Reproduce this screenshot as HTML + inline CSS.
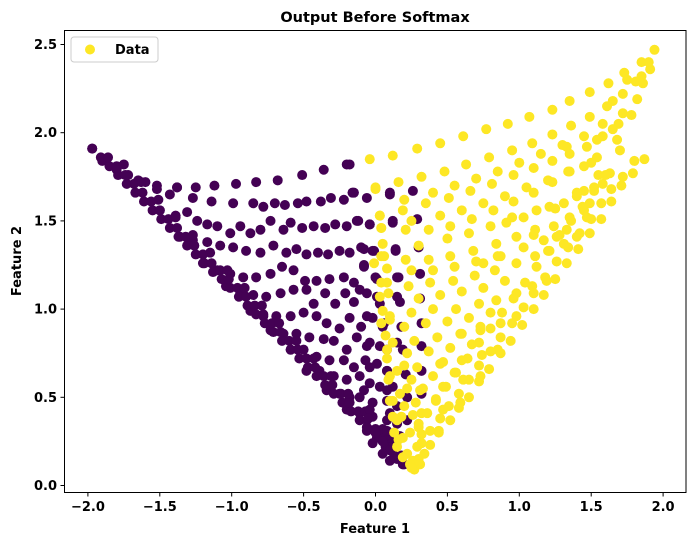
<!DOCTYPE html>
<html><head><meta charset="utf-8"><style>
body{margin:0;background:#fff;}
svg text{font-family:"DejaVu Sans","Liberation Sans",sans-serif;font-weight:bold;fill:#000;}
</style></head><body>
<svg id="chart" width="693" height="545" viewBox="0 0 693 545" xmlns="http://www.w3.org/2000/svg">
<rect x="0" y="0" width="693" height="545" fill="#fff"/>
<text x="375" y="22" font-size="14.5" text-anchor="middle">Output Before Softmax</text>
<g id="points"></g>
<g id="axes"></g>
<rect x="64.5" y="30.5" width="621.5" height="462" fill="none" stroke="#000" stroke-width="1"/>
<text x="375" y="533" font-size="13" text-anchor="middle">Feature 1</text>
<text x="21" y="261" font-size="13" text-anchor="middle" transform="rotate(-90 21 261)">Feature 2</text>
<g>
<rect x="71" y="37" width="87" height="25" rx="3" fill="#fff" fill-opacity="0.8" stroke="#ccc"/>
<circle cx="90" cy="49.5" r="5" fill="#fde725"/>
<text x="115" y="54" font-size="13">Data</text>
</g>
</svg>
<script>
const xTicks=[-2.0,-1.5,-1.0,-0.5,0.0,0.5,1.0,1.5,2.0];
const yTicks=[0.0,0.5,1.0,1.5,2.0,2.5];
const purpleX=[-1.97,-1.90,-1.80,-1.72,-1.65,-1.52,-1.38,-1.25,-1.12,-0.97,-0.83,-0.68,-0.51,-0.36,-0.20,
-1.60,-1.52,-1.43,-1.38,-1.27,-1.14,-0.99,-0.85,-0.78,-0.70,-0.63,-0.54,-0.48,-0.38,-0.31,-0.22,-0.16,-0.06,0.10,
-1.50,-1.39,-1.31,-1.24,-1.17,-1.10,-1.01,-0.94,-0.87,-0.80,-0.73,-0.64,-0.59,-0.51,-0.43,-0.35,-0.28,-0.20,-0.12,-0.04,0.12,
-1.36,-1.27,-1.17,-1.08,-0.99,-0.90,-0.80,-0.71,-0.62,-0.55,-0.48,-0.40,-0.33,-0.25,-0.18,-0.10,-0.02,0.14,
-1.20,-1.10,-1.01,-0.92,-0.83,-0.73,-0.65,-0.57,-0.49,-0.41,-0.32,-0.22,-0.15,-0.08,0.00,0.15,
-1.04,-0.94,-0.85,-0.76,-0.66,-0.57,-0.48,-0.43,-0.35,-0.28,-0.21,-0.15,-0.06,0.03,0.15,
-0.87,-0.78,-0.69,-0.59,-0.50,-0.41,-0.34,-0.25,-0.18,-0.10,-0.02,0.05,
-0.73,-0.64,-0.55,-0.46,-0.36,-0.29,-0.20,-0.13,-0.06,0.03,0.15,
-0.59,-0.50,-0.41,-0.32,-0.22,-0.15,-0.07,0.01,0.08,
-0.48,-0.39,-0.29,-0.20,-0.11,-0.04,0.03,0.12,
-0.34,-0.25,-0.18,-0.11,-0.02,0.08,0.15,
-0.20,-0.11,-0.02,0.08,0.15,
-0.06,0.03,0.10,
-1.97,-1.91,-1.85,-1.79,-1.73,-1.67,-1.61,-1.55,-1.49,-1.43,-1.37,-1.31,-1.25,-1.19,-1.13,-1.07,-1.01,-0.95,-0.89,-0.83,-0.77,-0.71,-0.65,-0.59,-0.53,-0.47,-0.41,-0.35,-0.29,-0.23,-0.17,-0.11,-0.05,0.01,0.07,0.13,0.19,
-1.86,-1.80,-1.74,-1.68,-1.62,-1.56,-1.50,-1.44,-1.38,-1.32,-1.26,-1.20,-1.14,-1.08,-1.02,-0.96,-0.90,-0.84,-0.78,-0.72,-0.66,-0.60,-0.54,-0.48,-0.42,-0.36,-0.30,-0.24,-0.18,-0.12,-0.06,0.00,0.06,0.12,0.18,
-1.75,-1.63,-1.51,-1.39,-1.27,-1.15,-1.03,-0.91,-0.79,-0.67,-0.55,-0.43,-0.31,-0.19,-0.07,0.05,
-0.18,-0.15,0.10,0.26,-0.13,-0.04,0.12,0.29,-0.08,-0.01,0.14,0.30,-0.08,0.01,0.16,0.31,-0.11,0.01,0.17,0.31,-0.06,0.06,0.18,0.32,-0.04,0.08,0.19,0.32,-0.04,0.08,0.21,0.32,-0.08,0.08,0.22,0.32,-0.04,0.10,0.22,-0.06,0.08,0.17,0.12,0.17,
0.05,0.10,0.00,-0.05,0.15,0.20,0.10,0.05,-0.02,0.14];
const purpleY=[1.91,1.84,1.79,1.76,1.73,1.70,1.69,1.69,1.70,1.71,1.72,1.73,1.76,1.79,1.82,
1.72,1.68,1.65,1.69,1.63,1.61,1.60,1.60,1.58,1.60,1.59,1.60,1.61,1.61,1.63,1.62,1.66,1.63,1.65,
1.56,1.53,1.55,1.50,1.48,1.47,1.43,1.47,1.43,1.45,1.50,1.45,1.49,1.46,1.47,1.46,1.48,1.47,1.50,1.48,1.50,
1.41,1.39,1.38,1.36,1.35,1.33,1.32,1.36,1.32,1.34,1.31,1.32,1.31,1.33,1.32,1.35,1.33,1.34,
1.26,1.22,1.20,1.18,1.18,1.20,1.24,1.22,1.16,1.16,1.17,1.18,1.15,1.24,1.18,1.18,
1.13,1.09,1.08,1.07,1.09,1.11,1.11,1.03,1.09,1.03,1.09,1.04,1.09,1.03,1.07,
0.99,0.96,0.96,0.96,0.98,0.96,0.92,0.89,0.95,0.90,0.95,0.90,
0.88,0.86,0.86,0.84,0.83,0.82,0.77,0.84,0.79,0.79,0.81,
0.77,0.77,0.73,0.71,0.71,0.67,0.71,0.69,0.65,
0.65,0.65,0.62,0.60,0.62,0.58,0.56,0.56,
0.54,0.52,0.50,0.50,0.47,0.48,0.45,
0.43,0.41,0.39,0.37,0.35,
0.31,0.28,0.26,
1.91,1.86,1.81,1.76,1.71,1.66,1.61,1.56,1.51,1.46,1.41,1.36,1.31,1.26,1.21,1.17,1.12,1.07,1.02,0.97,0.92,0.87,0.82,0.77,0.72,0.67,0.62,0.57,0.52,0.47,0.42,0.37,0.32,0.27,0.22,0.17,0.12,
1.86,1.81,1.76,1.71,1.66,1.61,1.56,1.51,1.46,1.41,1.36,1.31,1.26,1.22,1.17,1.12,1.07,1.02,0.97,0.92,0.87,0.82,0.77,0.72,0.67,0.62,0.57,0.52,0.47,0.42,0.37,0.32,0.27,0.22,0.17,
1.82,1.72,1.62,1.52,1.42,1.32,1.22,1.12,1.02,0.92,0.82,0.72,0.62,0.52,0.42,0.32,
1.82,1.66,1.66,1.67,1.50,1.48,1.49,1.51,1.34,1.33,1.33,1.35,1.25,1.17,1.18,1.20,1.11,1.07,1.04,1.06,0.96,0.92,0.90,0.92,0.81,0.77,0.77,0.79,0.67,0.65,0.63,0.65,0.54,0.54,0.50,0.52,0.43,0.41,0.37,0.33,0.31,0.28,0.22,0.16,
0.25,0.20,0.30,0.38,0.15,0.12,0.14,0.18,0.24,0.24];
const yellowX=[-0.04,0.12,0.29,0.45,0.61,0.77,0.92,1.07,1.23,1.35,1.49,1.62,1.73,1.85,1.94,
0.00,0.16,0.32,0.48,0.63,0.79,0.95,1.09,1.23,1.36,1.49,1.61,1.72,1.81,1.91,
0.03,0.19,0.35,0.51,0.66,0.81,0.96,1.10,1.23,1.35,1.47,1.58,1.69,
0.04,0.21,0.37,0.52,0.67,0.82,0.96,1.10,1.23,1.34,1.45,1.54,1.65,1.72,1.82,1.86,
1.87,1.79,1.71,1.64,1.57,1.49,1.41,1.33,1.25,1.17,1.10,1.02,0.94,0.87,0.79,0.72,0.65,0.58,0.52,0.44,0.38,0.30,
0.06,0.21,0.37,0.52,0.68,0.84,0.98,1.11,1.24,1.35,1.47,
0.08,0.23,0.38,0.54,0.69,0.83,0.98,1.11,1.21,1.31,
0.10,0.25,0.40,0.56,0.72,0.84,0.98,1.09,1.19,
0.12,0.27,0.43,0.59,0.73,0.87,0.98,
0.15,0.29,0.45,0.60,0.74,0.85,
0.17,0.31,0.47,0.61,0.73,
0.18,0.32,0.47,0.59,
0.19,0.32,0.44,
0.22,0.26,0.29,0.34,0.24,0.31,0.19,0.27,0.25,
1.21,1.31,1.40,1.45,1.52,1.58,1.63,1.33,1.26,1.45,1.03,1.12,0.91,1.03,1.17,0.87,0.75,1.40,1.49,1.68,1.54,1.58,1.45,1.33,
-0.01,0.03,0.04,0.08,0.10,0.12,0.15,0.16,
0.00,0.03,0.04,0.05,0.04,0.08,0.04,0.09,0.05,0.10,0.07,0.08,0.09,0.10,0.12,0.13,0.15,
1.80,1.72,1.64,1.57,1.50,1.42,1.34,1.26,1.18,1.10,1.03,0.95,0.87,0.80,0.72,0.65,0.58,0.51,0.45,0.38,0.32,
1.60,1.52,1.44,1.36,1.28,1.20,1.12,1.04,0.96,0.88,0.80,0.72,0.64,0.56,0.49,0.42,0.36,0.30,
0.25,0.40,0.55,0.70,0.85,0.30,0.45,0.60,0.75,0.90,0.20,0.35,0.50,0.65,0.80,0.22,0.37,0.52,0.67,0.25,0.40,0.55,0.28,0.42,0.30,0.24,0.20,0.22,0.20,0.26,0.33,0.47,0.60,0.73,
0.20,0.40,0.55,0.70,0.85,1.00,1.15,1.30,0.25,0.45,0.60,0.75,0.90,1.05,1.20,1.35,1.50,0.30,0.50,0.65,0.80,0.95,1.10,1.25,1.40,1.55,1.70,1.78,1.65,1.75,1.85,1.90];
const yellowY=[1.85,1.87,1.91,1.94,1.98,2.02,2.05,2.09,2.13,2.18,2.23,2.28,2.34,2.40,2.47,
1.69,1.72,1.75,1.78,1.82,1.86,1.90,1.94,1.99,2.04,2.09,2.15,2.22,2.29,2.36,
1.53,1.56,1.60,1.63,1.67,1.71,1.76,1.80,1.84,1.88,1.92,1.98,2.05,
1.46,1.45,1.45,1.47,1.51,1.56,1.61,1.66,1.72,1.78,1.81,1.86,2.02,2.11,2.19,2.28,
1.85,1.77,1.70,1.61,1.51,1.43,1.34,1.26,1.17,1.08,1.00,0.91,0.82,0.75,0.66,0.59,0.50,0.44,0.37,0.30,0.23,0.15,
1.30,1.28,1.28,1.30,1.33,1.37,1.41,1.45,1.47,1.52,1.52,
1.15,1.13,1.15,1.16,1.19,1.22,1.26,1.30,1.33,1.37,
0.96,0.98,1.00,1.00,1.03,1.05,1.09,1.13,1.16,
0.81,0.82,0.84,0.86,0.88,0.92,0.96,
0.65,0.67,0.69,0.71,0.74,0.77,
0.52,0.54,0.56,0.60,0.62,
0.39,0.41,0.43,0.47,
0.27,0.29,0.31,
0.18,0.14,0.22,0.18,0.12,0.12,0.16,0.09,0.10,
1.58,1.60,1.64,1.67,1.69,1.71,1.77,1.45,1.41,1.56,1.52,1.56,1.49,1.35,1.39,1.30,1.26,1.41,1.60,1.96,1.96,2.05,1.98,1.92,
1.26,1.07,0.92,0.77,0.62,0.48,0.37,0.26,
1.68,1.53,1.46,1.37,1.30,1.23,1.15,1.09,0.99,0.94,0.85,0.72,0.60,0.48,0.39,0.30,0.22,
1.84,1.75,1.68,1.60,1.51,1.43,1.35,1.27,1.18,1.09,1.01,0.92,0.84,0.76,0.68,0.60,0.52,0.45,0.38,0.31,0.24,
1.76,1.67,1.58,1.50,1.42,1.33,1.24,1.15,1.06,0.98,0.89,0.81,0.72,0.64,0.56,0.48,0.41,0.33,
1.22,1.22,1.24,1.27,1.30,1.06,1.08,1.10,1.12,1.16,0.90,0.92,0.93,0.95,0.98,0.75,0.76,0.78,0.80,0.60,0.62,0.64,0.47,0.49,0.35,0.30,0.45,0.55,0.68,0.40,0.55,0.70,0.86,0.90,
1.62,1.66,1.70,1.74,1.78,1.83,1.88,1.93,1.50,1.53,1.56,1.60,1.64,1.69,1.73,1.78,1.83,1.36,1.40,1.43,1.47,1.52,1.42,1.57,1.66,1.76,1.90,2.10,2.18,2.30,2.32,2.40];

const NS="http://www.w3.org/2000/svg";
const X0=375.5,UX=143.8,Y0=485.5,UY=176.4;
function sx(v){return X0+v*UX;}
function sy(v){return Y0-v*UY;}
const pts=document.getElementById('points');
function drawSeries(xs,ys,color,name){
  for(let i=0;i<xs.length;i++){
    const c=document.createElementNS(NS,'circle');
    c.setAttribute('cx',sx(xs[i]));c.setAttribute('cy',sy(ys[i]));
    c.setAttribute('r',5);c.setAttribute('fill',color);
    
    
    pts.appendChild(c);
  }
}
drawSeries(purpleX,purpleY,'#440154','class-0-point');
drawSeries(yellowX,yellowY,'#fde725','class-1-point');
const axes=document.getElementById('axes');
xTicks.forEach(v=>{
  const l=document.createElementNS(NS,'line');
  l.setAttribute('x1',sx(v));l.setAttribute('x2',sx(v));l.setAttribute('y1',492.5);l.setAttribute('y2',496.5);l.setAttribute('stroke','#000');
  
  
  axes.appendChild(l);
  const t=document.createElementNS(NS,'text');
  t.setAttribute('x',sx(v));t.setAttribute('y',511);t.setAttribute('font-size','13');t.setAttribute('text-anchor','middle');
  t.textContent=(v<0?'\u2212':'')+Math.abs(v).toFixed(1);
  
  
  axes.appendChild(t);
});
yTicks.forEach(v=>{
  const l=document.createElementNS(NS,'line');
  l.setAttribute('x1',60.5);l.setAttribute('x2',64.5);l.setAttribute('y1',sy(v));l.setAttribute('y2',sy(v));l.setAttribute('stroke','#000');
  
  
  axes.appendChild(l);
  const t=document.createElementNS(NS,'text');
  t.setAttribute('x',57);t.setAttribute('y',sy(v)+4.5);t.setAttribute('font-size','13');t.setAttribute('text-anchor','end');
  t.textContent=v.toFixed(1);
  
  
  axes.appendChild(t);
});
</script>
</body></html>
